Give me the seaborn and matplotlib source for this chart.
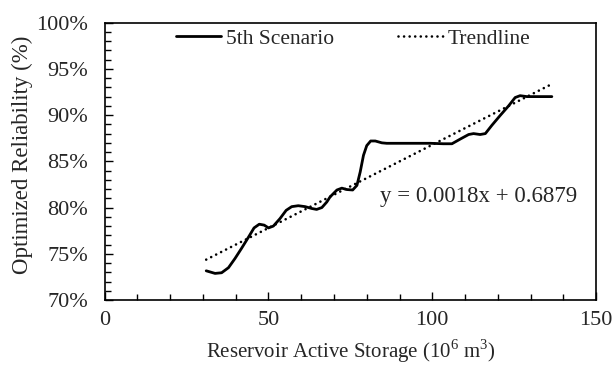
import numpy as np
import pandas as pd
import matplotlib
matplotlib.use("Agg")
import matplotlib.pyplot as plt
from matplotlib.ticker import MultipleLocator, PercentFormatter
import seaborn as sns

# Reservoir active storage (10^6 m^3) and optimized reliability (fraction)
storage = [31.0, 33.7, 35.7, 37.8, 39.8, 41.8, 43.9, 45.6, 47.2, 48.7, 50.0,
           51.5, 53.5, 55.4, 57.1, 59.1, 61.2, 63.2, 64.7, 66.3, 67.8, 68.8,
           70.9, 72.4, 73.9, 75.7, 77.0, 78.0, 79.0, 80.0, 81.2, 82.6, 84.6,
           86.1, 99.4, 103.4, 106.0, 108.5, 111.1, 112.6, 114.6, 116.2, 118.2,
           120.7, 123.3, 125.3, 126.8, 128.9, 136.5]
reliability = [0.7316, 0.7288, 0.7295, 0.7350, 0.7450, 0.7560, 0.7680, 0.7780,
               0.7820, 0.7810, 0.7780, 0.7800, 0.7880, 0.7970, 0.8010, 0.8020,
               0.8010, 0.7990, 0.7980, 0.8000, 0.8060, 0.8115, 0.8190, 0.8210,
               0.8195, 0.8190, 0.8240, 0.8385, 0.8565, 0.8670, 0.8720, 0.8720,
               0.8700, 0.8695, 0.8695, 0.8690, 0.8690, 0.8740, 0.8790, 0.8800,
               0.8790, 0.8800, 0.8890, 0.8995, 0.9100, 0.9190, 0.9210, 0.9200,
               0.9200]

# Linear trendline coefficients
slope = 0.0018
intercept = 0.6879
trend_x = [31.0, 136.5]

series_label = "5th Scenario"
trend_label = "Trendline"
x_label = "Reservoir Active Storage (10$^{6}$ m$^{3}$)"
y_label = "Optimized Reliability (%)"

sns.set_style("white")
plt.rcParams["font.family"] = ["Liberation Serif", "DejaVu Serif"]
plt.rcParams["mathtext.fontset"] = "custom"
plt.rcParams["mathtext.rm"] = "Liberation Serif"

df = pd.DataFrame({"x": storage, "y": reliability})
tx = np.array(trend_x)
trend = pd.DataFrame({"x": tx, "y": slope * tx + intercept})

fig = plt.figure(figsize=(6.12, 3.65), dpi=100)
ax = fig.add_axes([0.171, 0.178, 0.803, 0.760])

sns.lineplot(data=df, x="x", y="y", ax=ax, color="black", linewidth=2.0,
             label=series_label, solid_joinstyle="round", solid_capstyle="round")
sns.lineplot(data=trend, x="x", y="y", ax=ax, color="black", linewidth=1.9,
             linestyle=(0, (0.01, 2.1)), dash_capstyle="round", label=trend_label)

ax.set_xlim(0, 150)
ax.set_ylim(0.70, 1.00)
ax.xaxis.set_major_locator(MultipleLocator(50))
ax.xaxis.set_minor_locator(MultipleLocator(10))
ax.yaxis.set_major_locator(MultipleLocator(0.05))
ax.yaxis.set_minor_locator(MultipleLocator(0.01))
ax.yaxis.set_major_formatter(PercentFormatter(xmax=1.0, decimals=0))

ax.tick_params(axis="both", which="major", direction="in", length=6, width=1,
               labelsize=16, color="black")
ax.tick_params(axis="x", which="major", pad=8)
ax.tick_params(axis="y", which="major", pad=12)
ax.tick_params(axis="both", which="minor", direction="in", length=4, width=1,
               color="black")
ax.tick_params(axis="x", which="both", bottom=True, top=False)
ax.tick_params(axis="y", which="both", left=True, right=False)

for side in ax.spines.values():
    side.set_visible(True)
    side.set_color("black")
    side.set_linewidth(1.2)

ax.set_xlabel(x_label, fontsize=15)
ax.set_ylabel(y_label, fontsize=16.5)
ax.xaxis.set_label_coords(0.501, -0.183)
ax.xaxis.label.set_va("center")
ax.yaxis.set_label_coords(-0.168, 0.523)
ax.yaxis.label.set_va("center")

ax.text(83.9, 0.8115, f"y = {slope}x + {intercept}", fontsize=16.5,
        ha="left", va="center")

leg = ax.legend(loc="center left", bbox_to_anchor=(0.1455, 0.942), ncol=2,
                frameon=False, fontsize=15.5, handlelength=2.1,
                handletextpad=0.2, columnspacing=3.0, borderaxespad=0.0,
                borderpad=0.0)

fig.savefig("out.png", dpi=100)
